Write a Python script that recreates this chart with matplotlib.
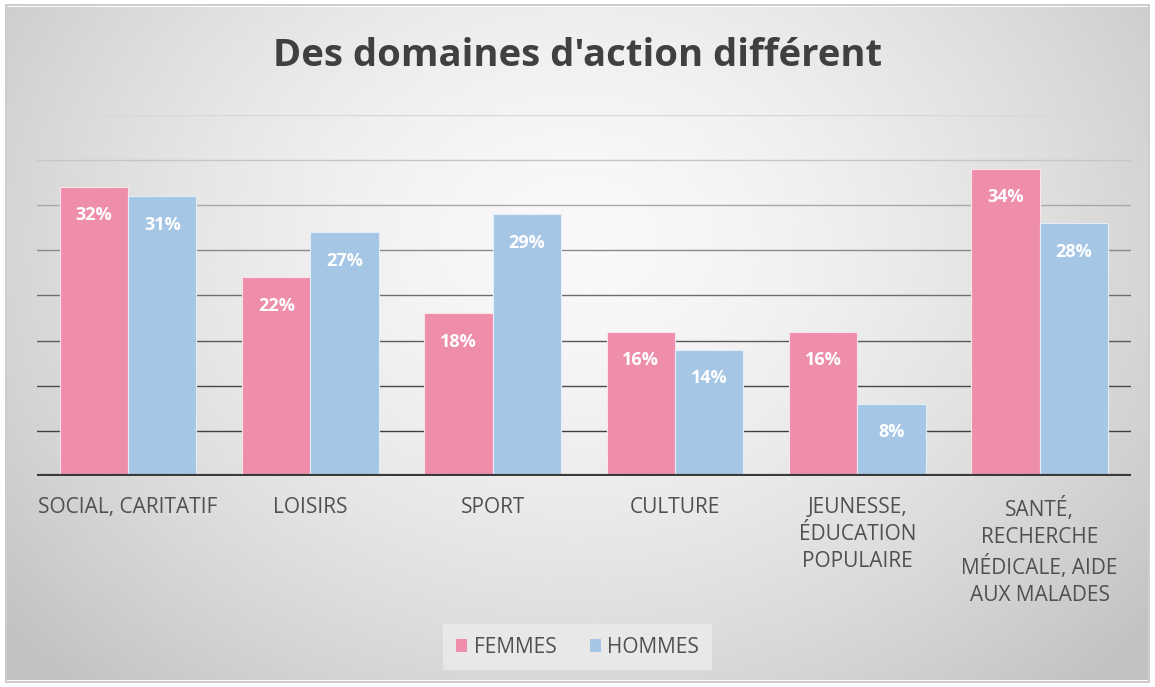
import numpy as np
import matplotlib
matplotlib.use("Agg")
import matplotlib.pyplot as plt
from matplotlib.patches import Rectangle, Patch

plt.rcParams['font.family'] = ['Open Sans', 'DejaVu Sans']

# données
categories = ["SOCIAL, CARITATIF", "LOISIRS", "SPORT", "CULTURE",
              "JEUNESSE,\nÉDUCATION\nPOPULAIRE",
              "SANTÉ,\nRECHERCHE\nMÉDICALE, AIDE\nAUX MALADES"]
femmes = [32, 22, 18, 16, 16, 34]
hommes = [31, 27, 29, 14, 8, 28]
series_names = ["FEMMES", "HOMMES"]

pink = "#EF8EAB"
blue = "#A6C6E6"

fig = plt.figure(figsize=(11.55, 6.87), dpi=100)

# fond dégradé radial
bg = fig.add_axes([0, 0, 1, 1], zorder=-10)
yy, xx = np.mgrid[0:1:300j, 0:1:500j]
r = np.sqrt(((xx - 0.5) / 0.62) ** 2 + ((yy - 0.35) / 0.85) ** 2)
shade = np.clip(0.975 - 0.2 * r ** 1.6, 0.76, 0.98)
bg.imshow(shade, cmap="gray", vmin=0, vmax=1, extent=[0, 1, 0, 1],
          origin="upper", aspect="auto", interpolation="bicubic")
bg.add_patch(Rectangle((0.0, 0.0), 1, 1, transform=bg.transAxes,
                       facecolor="none", edgecolor="white", lw=10))
bg.add_patch(Rectangle((0.005, 0.008), 0.99, 0.984, transform=bg.transAxes,
                       facecolor="none", edgecolor="#c4c4c4", lw=1.2))
bg.set_axis_off()

ax = fig.add_axes([0.032, 0.307, 0.947, 0.526])
ax.patch.set_alpha(0)

x = np.arange(len(categories))
w = 0.375
b1 = ax.bar(x - w / 2, femmes, width=w, color=pink, edgecolor="#fbe3ea",
            linewidth=0.8, zorder=3)
b2 = ax.bar(x + w / 2, hommes, width=w, color=blue, edgecolor="#e3edf7",
            linewidth=0.8, zorder=3)

for bars in (b1, b2):
    for b in bars:
        h = b.get_height()
        ax.annotate(f"{h:.0f}%", (b.get_x() + b.get_width() / 2, h),
                    xytext=(0, -20.5), textcoords="offset points",
                    ha="center", va="center", color="white",
                    fontsize=13, fontweight="bold", zorder=4)

ax.set_xlim(-0.5, len(categories) - 0.5)
ax.set_ylim(0, 40)
ticks = np.arange(5, 45, 5)
grid_cols = ["#3f3f3f", "#4a4a4a", "#5a5a5a", "#6e6e6e", "#8a8a8a",
             "#a8a8a8", "#c6c6c6", "#d8d8d8"]
for t, c in zip(ticks, grid_cols):
    ax.axhline(t, color=c, lw=1.0, zorder=1)
ax.axhline(0, color="#3a3a3a", lw=3, zorder=5)

ax.set_yticks([])
ax.set_xticks(x)
ax.set_xticklabels(categories, fontsize=15, color="#505050",
                   linespacing=1.38, va="top")
ax.tick_params(axis="x", length=0, pad=15)
for s in ax.spines.values():
    s.set_visible(False)

fig.text(0.5, 0.918, "Des domaines d'action différent", ha="center",
         va="center", fontsize=27.5, fontweight="bold", color="#404040")

handles = [Patch(facecolor=pink), Patch(facecolor=blue)]
leg = fig.legend(handles, series_names, loc="center", ncol=2,
                 bbox_to_anchor=(0.5, 0.058), fontsize=15, frameon=True,
                 handlelength=0.55, handleheight=0.55, handletextpad=0.3,
                 columnspacing=1.6, borderpad=0.6, borderaxespad=0)
leg.get_frame().set_facecolor("#ececec")
leg.get_frame().set_edgecolor("none")
leg.get_frame().set_alpha(0.8)
leg.get_frame().set_boxstyle("square", pad=0)
for t in leg.get_texts():
    t.set_color("#505050")

fig.savefig("out.png", dpi=100)
